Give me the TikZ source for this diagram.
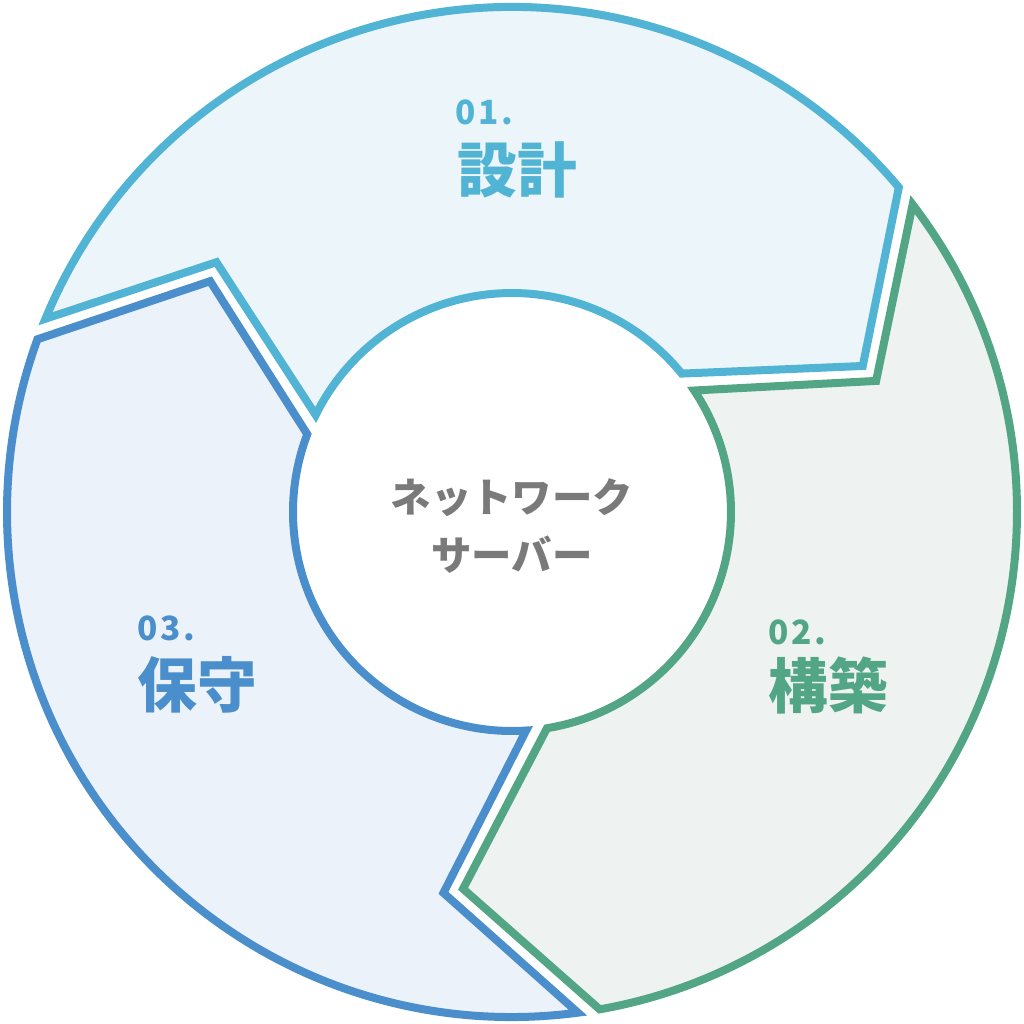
\documentclass[tikz,border=0pt]{standalone}
\usepackage{fontspec}
\setmainfont{Noto Sans CJK JP}
\usepackage{xcolor}
\usepackage{tikz}
\usetikzlibrary{positioning}

\definecolor{designline}{HTML}{52B4D4}
\definecolor{designfill}{HTML}{ECF5F9}
\definecolor{buildline}{HTML}{52A585}
\definecolor{buildfill}{HTML}{EEF3F2}
\definecolor{keepline}{HTML}{4A8ECB}
\definecolor{keepfill}{HTML}{ECF2FA}
\definecolor{hubtext}{HTML}{7A7A7A}

\begin{document}
\begin{tikzpicture}[
  seg/.style={line width=0.08cm, line join=miter},
  num/.style={anchor=west, inner sep=0pt, font=\bfseries\fontsize{9.5}{11}\selectfont\addfontfeature{LetterSpace=8}},
  word/.style={anchor=west, inner sep=0pt, font=\bfseries\fontsize{17}{20}\selectfont},
  hub/.style={align=center, inner sep=0pt, text=hubtext, font=\bfseries\fontsize{11.5}{16.5}\selectfont}
]
\useasboundingbox (-5.12,-5.12) rectangle (5.12,5.12);

% ring segments
\filldraw[seg, draw=designline, fill=designfill]
  (157.5:5.05) arc[start angle=157.5, end angle=40, radius=5.05]
  -- (22.6:3.8) -- (39.2:2.19)
  arc[start angle=39.2, end angle=153.7, radius=2.19]
  -- (139.8:3.87) -- cycle;
\filldraw[seg, draw=buildline, fill=buildfill]
  (37.5:5.05) arc[start angle=37.5, end angle=-80, radius=5.05]
  -- (-97.4:3.8) -- (-80.8:2.19)
  arc[start angle=-80.8, end angle=33.7, radius=2.19]
  -- (19.8:3.87) -- cycle;
\filldraw[seg, draw=keepline, fill=keepfill]
  (-82.5:5.05) arc[start angle=-82.5, end angle=-200, radius=5.05]
  -- (-217.4:3.8) -- (-200.8:2.19)
  arc[start angle=-200.8, end angle=-86.3, radius=2.19]
  -- (-100.2:3.87) -- cycle;

% labels
\node (kj1) [word, text=designline] at (-0.55,3.42) {設計};
\node (n1) [num, text=designline] at (-0.57,4.0) {01.};
\node (kj2) [word, text=buildline] at (2.56,-1.73) {構築};
\node (n2) [num, text=buildline] at (2.56,-1.2) {02.};
\node (kj3) [word, text=keepline] at (-3.75,-1.73) {保守};
\node (n3) [num, text=keepline] at (-3.75,-1.16) {03.};

\node (hub) [hub] at (0,-0.14) {ネットワーク\\サーバー};
\end{tikzpicture}
\end{document}
